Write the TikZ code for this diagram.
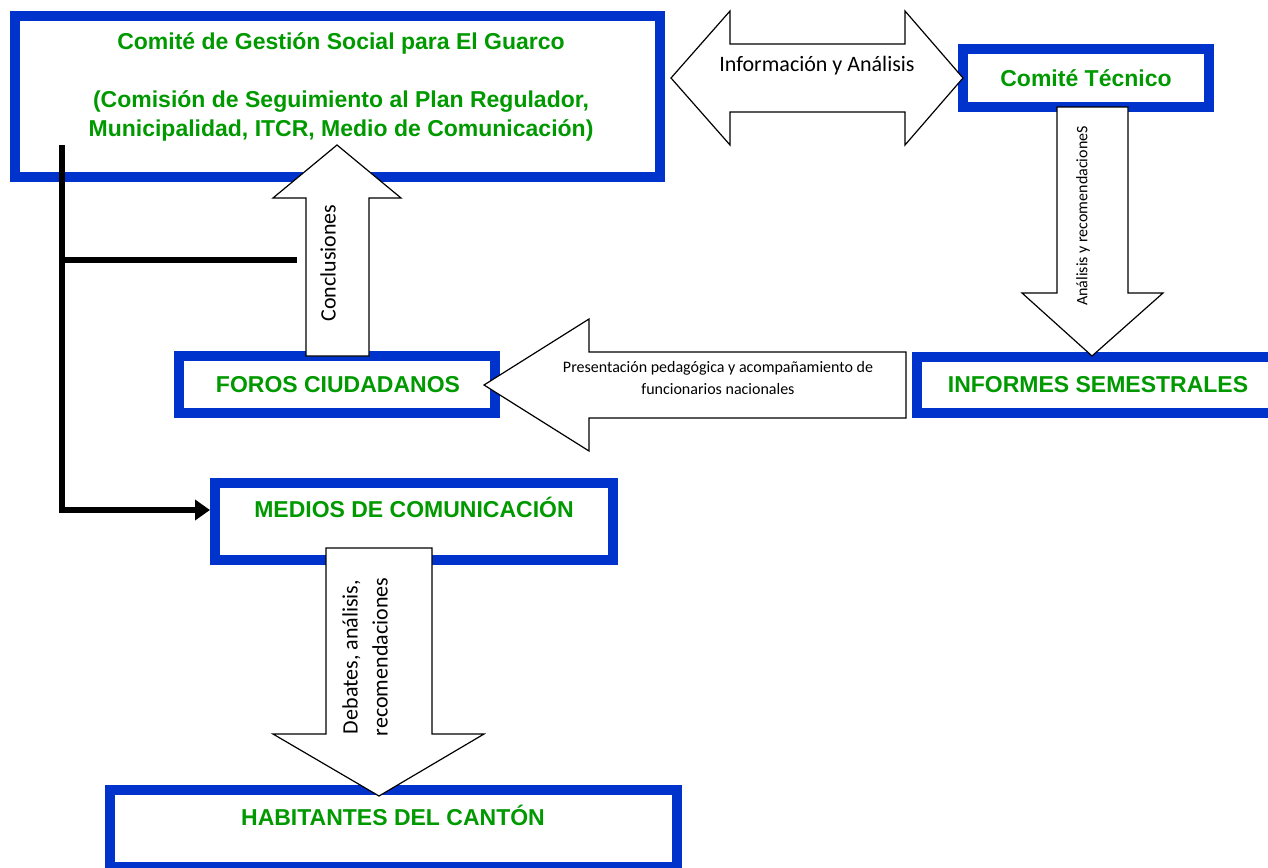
\documentclass[tikz,border=0pt]{standalone}
\usepackage{fontspec}
\setmainfont{Liberation Sans}
\newfontfamily\calibri{Carlito}
\usetikzlibrary{arrows.meta}
\definecolor{boxblue}{RGB}{0,51,204}
\definecolor{boxgreen}{RGB}{0,153,0}

\begin{document}
\begin{tikzpicture}[x=1pt,y=-1pt,>={Triangle[length=15pt,width=20pt]},
                    line join=miter]

  \tikzstyle{box}=[rectangle,draw=boxblue,line width=10pt,inner sep=0pt]
  \tikzstyle{title}=[text=boxgreen,font=\fontsize{23}{28.5}\selectfont\bfseries,
                     anchor=base,inner sep=0pt]
  \tikzstyle{flow}=[draw=black,fill=white,line width=1.2pt]
  \tikzstyle{note}=[font=\calibri\fontsize{22}{30}\selectfont,inner sep=0pt]
  \tikzstyle{small note}=[font=\calibri\fontsize{16}{22}\selectfont,inner sep=0pt]

  \useasboundingbox (0,0) rectangle (1268,867);
  \clip (0,0) rectangle (1268,867);

  \node[box,minimum width=645pt,minimum height=161pt] (CG) at (337.5,96.5) {};
  \node[box,minimum width=246pt,minimum height=58pt]  (CT) at (1086,78)    {};
  \node[box,minimum width=316pt,minimum height=57pt]  (FC) at (337,384.5)  {};
  \node[box,minimum width=358pt,minimum height=56pt]  (IS) at (1096,385)   {};
  \node[box,minimum width=398pt,minimum height=77pt]  (MC) at (414,521.5)  {};
  \node[box,minimum width=567pt,minimum height=77pt]  (HC) at (393.5,828.5) {};

  \node[title] (CG-a) at (341,50)  {Comité de Gestión Social para El Guarco};
  \node[title] (CG-b) at (341,107) {(Comisión de Seguimiento al Plan Regulador,};
  \node[title] (CG-c) at (341,136) {Municipalidad, ITCR, Medio de Comunicación)};
  \node[title] (CT-t) at (1086,86) {Comité Técnico};
  \node[title] (FC-t) at (338,392) {FOROS CIUDADANOS};
  \node[title] (IS-t) at (1098,392) {INFORMES SEMESTRALES};
  \node[title] (MC-t) at (414,517) {MEDIOS DE COMUNICACIÓN};
  \node[title] (HC-t) at (393,825) {HABITANTES DEL CANTÓN};

  % block arrows
  \draw[flow] (671,78) -- (730,11) -- (730,44) -- (905,44) -- (905,11) -- (963,78)
              -- (905,145) -- (905,112) -- (730,112) -- (730,145) -- cycle;
  \draw[flow] (1057,107) -- (1128,107) -- (1128,293) -- (1163,293) -- (1092,356)
              -- (1022,293) -- (1057,293) -- cycle;
  \draw[flow] (484,385) -- (589,319) -- (589,352) -- (906,352) -- (906,418)
              -- (589,418) -- (589,451) -- cycle;
  \draw[flow] (306,356) -- (306,198) -- (273,198) -- (337,145) -- (401,198)
              -- (369,198) -- (369,356) -- cycle;
  \draw[flow] (326,548) -- (432,548) -- (432,734) -- (484,734) -- (379,796)
              -- (273,734) -- (326,734) -- cycle;

  \node[note,anchor=base] (info) at (817,71) {Información y Análisis};
  \node[small note,rotate=90] (anrec) at (1083,216) {Análisis y recomendacioneS};
  \node[small note,align=center] (pres) at (718,378)
        {Presentación pedagógica y acompañamiento de\\funcionarios nacionales};
  \node[note,rotate=90] (concl) at (328,263) {Conclusiones};
  \node[note,rotate=90,align=center] (debat) at (365,657)
        {Debates, análisis,\\recomendaciones};

  % black connector
  \coordinate (top)  at (62,145);
  \coordinate (bend) at (62,510);
  \coordinate (mid)  at (297,260);
  \draw[line width=5.5pt,->] (top) -- (bend) -- (MC.west |- bend);
  \draw[line width=5.5pt] (top |- mid) -- (mid);

\end{tikzpicture}
\end{document}
